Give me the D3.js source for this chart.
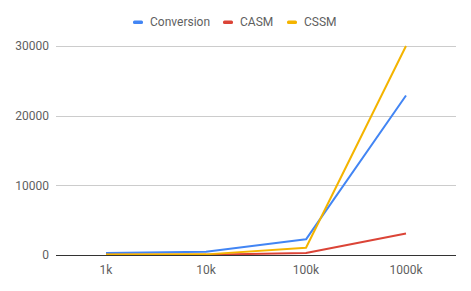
<!DOCTYPE html>
<html>
<head>
<meta charset="utf-8">
<script src="https://cdn.jsdelivr.net/npm/d3@7"></script>
<style>
  body { margin: 0; background: #fff; }
  text { font-family: Roboto, "Noto Sans", sans-serif; }
</style>
</head>
<body>
<script>
var categories = ['1k', '10k', '100k', '1000k'];
var conversion = [300, 480, 2250, 22900];
var casm = [20, 40, 280, 3080];
var cssm = [60, 90, 1050, 30000];
var yTicks = [0, 10000, 20000, 30000];

var series = [
  { name: 'Conversion', color: '#4285F4', values: conversion },
  { name: 'CASM', color: '#DB4437', values: casm },
  { name: 'CSSM', color: '#F4B400', values: cssm }
];

var width = 471, height = 291;
var margin = { top: 46, right: 15, bottom: 36, left: 56 };
var textColor = '#5f5f5f';

var svg = d3.select('body').append('svg')
  .attr('width', width)
  .attr('height', height);

var x = d3.scaleBand()
  .domain(categories)
  .range([margin.left, width - margin.right]);

var y = d3.scaleLinear()
  .domain([0, 30000])
  .range([height - margin.bottom, margin.top]);

// gridlines
svg.append('g').selectAll('line')
  .data(yTicks.filter(function(d) { return d > 0; }))
  .enter().append('line')
    .attr('x1', margin.left).attr('x2', width - margin.right)
    .attr('y1', function(d) { return Math.round(y(d)) + 0.5; })
    .attr('y2', function(d) { return Math.round(y(d)) + 0.5; })
    .attr('stroke', '#cccccc');

// y labels
svg.append('g').selectAll('text')
  .data(yTicks)
  .enter().append('text')
    .attr('x', margin.left - 7)
    .attr('y', function(d) { return y(d); })
    .attr('dy', '0.35em')
    .attr('text-anchor', 'end')
    .attr('font-size', 12)
    .attr('fill', textColor)
    .text(function(d) { return d; });

// x labels
svg.append('g').selectAll('text')
  .data(categories)
  .enter().append('text')
    .attr('x', function(d) { return x(d) + x.bandwidth() / 2; })
    .attr('y', height - margin.bottom + 15)
    .attr('dy', '0.35em')
    .attr('text-anchor', 'middle')
    .attr('font-size', 12)
    .attr('fill', textColor)
    .text(function(d) { return d; });

var line = d3.line()
  .x(function(d, i) { return x(categories[i]) + x.bandwidth() / 2; })
  .y(function(d) { return y(d); });

series.forEach(function(s) {
  svg.append('path')
    .datum(s.values)
    .attr('fill', 'none')
    .attr('stroke', s.color)
    .attr('stroke-width', 2)
    .attr('stroke-linejoin', 'round')
    .attr('d', line);
});

// baseline
svg.append('line')
  .attr('x1', margin.left).attr('x2', width - margin.right)
  .attr('y1', Math.round(y(0)) + 0.5).attr('y2', Math.round(y(0)) + 0.5)
  .attr('stroke', '#333');

// legend
var legendX = [133, 223, 287];
var legend = svg.append('g').selectAll('g')
  .data(series)
  .enter().append('g')
    .attr('transform', function(d, i) { return 'translate(' + legendX[i] + ',22)'; });
legend.append('rect')
  .attr('x', 0).attr('y', -1.5)
  .attr('width', 10).attr('height', 3.5)
  .attr('rx', 1.5)
  .attr('fill', function(d) { return d.color; });
legend.append('text')
  .attr('x', 17)
  .attr('dy', '0.35em')
  .attr('font-size', 12)
  .attr('fill', textColor)
  .text(function(d) { return d.name; });
</script>
</body>
</html>
